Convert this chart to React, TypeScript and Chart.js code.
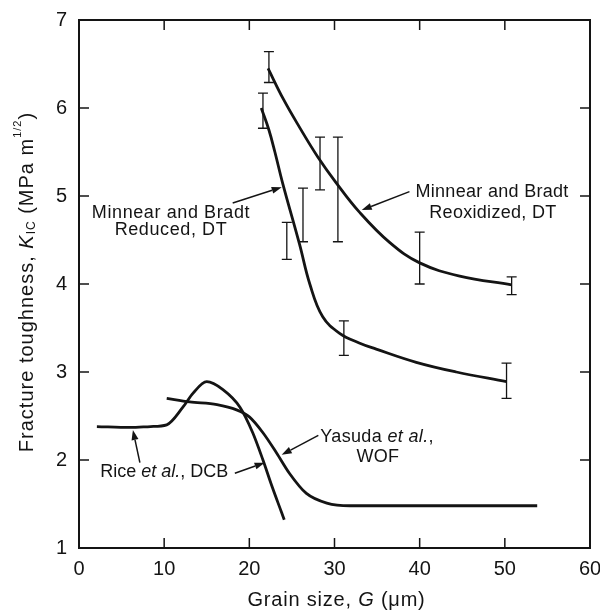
import React, { useEffect, useRef } from 'react';
import { Chart, registerables } from 'chart.js';
Chart.register(...registerables);

// ---- data ----
const xTicks = [0, 10, 20, 30, 40, 50, 60];
const yTicks = [1, 2, 3, 4, 5, 6, 7];

const reoxX = [22.2, 24.0, 25.9, 28.0, 30.2, 32.9, 36.5, 40.0, 44.7, 50.8];
const reoxY = [6.45, 6.1, 5.78, 5.45, 5.15, 4.82, 4.47, 4.24, 4.09, 3.99];

const redX = [21.4, 22.3, 23.0, 23.9, 25.9, 27.1, 28.6, 30.6, 32.9, 34.9, 39.6, 44.3, 50.2];
const redY = [6.0, 5.75, 5.5, 5.15, 4.45, 4.0, 3.63, 3.44, 3.33, 3.26, 3.11, 3.0, 2.89];

const riceX = [2.1, 6.0, 8.4, 10.3, 12.2, 13.4, 15.0, 16.9, 18.9, 20.4, 21.6, 22.7, 23.8, 24.1];
const riceY = [2.38, 2.37, 2.38, 2.4, 2.6, 2.76, 2.89, 2.8, 2.6, 2.31, 2.0, 1.69, 1.4, 1.32];

const yasX = [10.3, 13.0, 16.2, 18.5, 20.0, 21.6, 23.2, 24.7, 26.7, 29.1, 31.8, 40.0, 53.8];
const yasY = [2.7, 2.66, 2.63, 2.57, 2.49, 2.31, 2.08, 1.85, 1.62, 1.51, 1.48, 1.48, 1.48];

const reoxErrX = [22.3, 28.3, 30.4, 40.0, 50.8];
const reoxErrLo = [6.29, 5.07, 4.48, 4.0, 3.88];
const reoxErrHi = [6.64, 5.67, 5.67, 4.59, 4.08];

const redErrX = [21.6, 24.4, 26.3, 31.1, 50.2];
const redErrLo = [5.77, 4.28, 4.48, 3.19, 2.7];
const redErrHi = [6.17, 4.7, 5.09, 3.58, 3.1];

const FONT = '"Liberation Sans", Arial, Helvetica, sans-serif';
const INK = '#141414';

type Seg = { t: string; it?: boolean; size?: number; dy?: number };

function drawRich(ctx: any, segs: Seg[], cx: number, cy: number, base: number, rot = 0, spacing = 0) {
  ctx.save();
  ctx.translate(cx, cy);
  ctx.rotate(rot);
  ctx.textBaseline = 'middle';
  ctx.textAlign = 'left';
  ctx.fillStyle = INK;
  ctx.letterSpacing = `${spacing}px`;
  const fontOf = (s: Seg) => `${s.it ? 'italic ' : ''}${s.size ?? base}px ${FONT}`;
  let w = 0;
  for (const s of segs) {
    ctx.font = fontOf(s);
    w += ctx.measureText(s.t).width;
  }
  let x = -w / 2;
  for (const s of segs) {
    ctx.font = fontOf(s);
    ctx.fillText(s.t, x, s.dy ?? 0);
    x += ctx.measureText(s.t).width;
  }
  ctx.letterSpacing = '0px';
  ctx.restore();
}

function arrow(ctx: CanvasRenderingContext2D, x1: number, y1: number, x2: number, y2: number) {
  const ang = Math.atan2(y2 - y1, x2 - x1);
  const hl = 10, hw = 3.5;
  ctx.save();
  ctx.strokeStyle = INK;
  ctx.fillStyle = INK;
  ctx.lineWidth = 1.5;
  ctx.beginPath();
  ctx.moveTo(x1, y1);
  ctx.lineTo(x2 - hl * Math.cos(ang), y2 - hl * Math.sin(ang));
  ctx.stroke();
  ctx.beginPath();
  ctx.moveTo(x2, y2);
  ctx.lineTo(x2 - hl * Math.cos(ang) + hw * Math.sin(ang), y2 - hl * Math.sin(ang) - hw * Math.cos(ang));
  ctx.lineTo(x2 - hl * Math.cos(ang) - hw * Math.sin(ang), y2 - hl * Math.sin(ang) + hw * Math.cos(ang));
  ctx.closePath();
  ctx.fill();
  ctx.restore();
}

const decorPlugin = {
  id: 'decor',
  beforeDatasetsDraw(chart: any) {
    const { ctx, chartArea: a, scales } = chart;
    const xs = scales.x, ys = scales.y;
    ctx.save();
    ctx.strokeStyle = INK;
    ctx.lineWidth = 2;
    ctx.strokeRect(a.left, a.top, a.right - a.left, a.bottom - a.top);
    ctx.lineWidth = 1.5;
    const tl = 10;
    ctx.beginPath();
    for (const v of xTicks.slice(1, -1)) {
      const px = xs.getPixelForValue(v);
      ctx.moveTo(px, a.bottom); ctx.lineTo(px, a.bottom - tl);
      ctx.moveTo(px, a.top); ctx.lineTo(px, a.top + tl);
    }
    for (const v of yTicks.slice(1, -1)) {
      const py = ys.getPixelForValue(v);
      ctx.moveTo(a.left, py); ctx.lineTo(a.left + tl, py);
      ctx.moveTo(a.right, py); ctx.lineTo(a.right - tl, py);
    }
    ctx.stroke();

    // error bars
    ctx.lineWidth = 1.3;
    const cap = 5;
    const bars = (X: number[], L: number[], H: number[]) => {
      ctx.beginPath();
      X.forEach((xv, i) => {
        const px = xs.getPixelForValue(xv);
        const lo = ys.getPixelForValue(L[i]);
        const hi = ys.getPixelForValue(H[i]);
        ctx.moveTo(px, lo); ctx.lineTo(px, hi);
        ctx.moveTo(px - cap, lo); ctx.lineTo(px + cap, lo);
        ctx.moveTo(px - cap, hi); ctx.lineTo(px + cap, hi);
      });
      ctx.stroke();
    };
    bars(reoxErrX, reoxErrLo, reoxErrHi);
    bars(redErrX, redErrLo, redErrHi);
    ctx.restore();
  },
  afterDraw(chart: any) {
    const { ctx, chartArea: a, scales } = chart;
    const X = (v: number) => scales.x.getPixelForValue(v);
    const Y = (v: number) => scales.y.getPixelForValue(v);
    const fs = 18;
    const sp = 0.35;

    // axis titles
    drawRich(ctx, [
      { t: 'Fracture toughness, ' },
      { t: 'K', it: true },
      { t: 'IC', size: 12, dy: 5 },
      { t: ' (MPa m' },
      { t: '1/2', size: 11, dy: -9 },
      { t: ')' },
    ], 27, (a.top + a.bottom) / 2 - 2, 20, -Math.PI / 2, 1.0);
    drawRich(ctx, [
      { t: 'Grain size, ' },
      { t: 'G', it: true },
      { t: ' (\u03bcm)' },
    ], (a.left + a.right) / 2 + 2, 600, 20, 0, 0.8);

    // annotations
    drawRich(ctx, [{ t: 'Minnear and Bradt' }], X(10.8), Y(4.81), fs, 0, 0.6);
    drawRich(ctx, [{ t: 'Reduced, DT' }], X(10.8), Y(4.61), fs, 0, 0.6);
    arrow(ctx, X(18.05), Y(4.92), X(23.8), Y(5.1));

    drawRich(ctx, [{ t: 'Minnear and Bradt' }], X(48.5), Y(5.05), fs, 0, 0.3);
    drawRich(ctx, [{ t: 'Reoxidized, DT' }], X(48.6), Y(4.81), fs, 0, 0.3);
    arrow(ctx, X(38.8), Y(5.05), X(33.2), Y(4.84));

    drawRich(ctx, [{ t: 'Rice ' }, { t: 'et al.', it: true }, { t: ', DCB' }], X(10.0), Y(1.86), fs, 0, 0);
    arrow(ctx, X(7.15), Y(1.97), X(6.33), Y(2.34));
    arrow(ctx, X(18.3), Y(1.85), X(21.8), Y(1.97));

    drawRich(ctx, [{ t: 'Yasuda ' }, { t: 'et al.', it: true }, { t: ',' }], X(35.0), Y(2.26), fs, 0, sp);
    drawRich(ctx, [{ t: 'WOF' }], X(35.1), Y(2.03), fs, 0, sp);
    arrow(ctx, X(28.1), Y(2.28), X(23.8), Y(2.06));
  },
};

function pts(xs: number[], ys: number[]) {
  return xs.map((x, i) => ({ x, y: ys[i] }));
}

export default function App() {
  const ref = useRef<HTMLCanvasElement | null>(null);
  useEffect(() => {
    if (!ref.current) return;
    const line = (label: string, data: any[], mono: boolean) => ({
      label,
      data,
      borderColor: INK,
      borderWidth: 2.8,
      pointRadius: 0,
      fill: false,
      cubicInterpolationMode: mono ? ('monotone' as const) : ('default' as const),
      tension: 0.4,
    });
    const chart = new Chart(ref.current, {
      type: 'line',
      data: {
        datasets: [
          line('Minnear and Bradt Reoxidized, DT', pts(reoxX, reoxY), false),
          line('Minnear and Bradt Reduced, DT', pts(redX, redY), false),
          line('Rice et al., DCB', pts(riceX, riceY), true),
          line('Yasuda et al., WOF', pts(yasX, yasY), true),
        ],
      },
      options: {
        animation: false,
        responsive: true,
        maintainAspectRatio: false,
        layout: { padding: { left: 0, top: 20, right: 10, bottom: 0 } },
        plugins: { legend: { display: false }, tooltip: { enabled: false } },
        scales: {
          x: {
            type: 'linear',
            min: 0,
            max: 60,
            afterBuildTicks: (s: any) => { s.ticks = xTicks.map((v) => ({ value: v })); },
            ticks: { font: { size: 20, family: FONT }, color: INK, padding: 9, maxRotation: 0 },
            grid: { display: false, drawTicks: false },
            border: { display: false },
            afterFit: (s: any) => { s.height = 65; s.paddingLeft = 0; s.paddingRight = 0; },
          },
          y: {
            type: 'linear',
            min: 1,
            max: 7,
            afterBuildTicks: (s: any) => { s.ticks = yTicks.map((v) => ({ value: v })); },
            ticks: { font: { size: 20, family: FONT }, color: INK, padding: 12 },
            grid: { display: false, drawTicks: false },
            border: { display: false },
            afterFit: (s: any) => { s.width = 79; s.paddingTop = 0; s.paddingBottom = 0; },
          },
        },
      },
      plugins: [decorPlugin],
    });
    return () => chart.destroy();
  }, []);
  return (
    <div style={{ position: 'absolute', left: 0, top: 0, width: 600, height: 613, background: '#fff' }}>
      <canvas ref={ref} />
    </div>
  );
}
